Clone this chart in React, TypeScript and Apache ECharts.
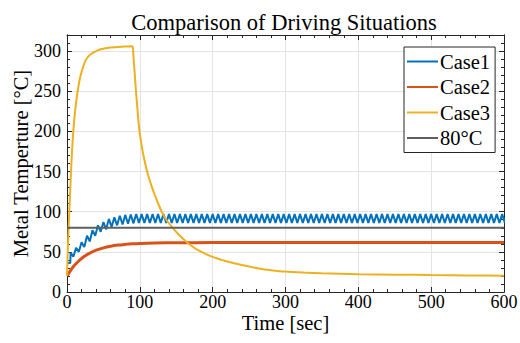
import React, { useEffect, useRef } from "react";
import * as echarts from "echarts";

const FONT = "'Liberation Serif', 'Times New Roman', serif";

const seriesNames = ["Case1", "Case2", "Case3", "80°C"];
const xTicks = [0, 100, 200, 300, 400, 500, 600];
const yTicks = [0, 50, 100, 150, 200, 250, 300];

// Case1: lead-in points, then alternating peak/trough values every half period
const case1Lead: [number, number][] = [
  [0, 36],
  [4.5, 36],
];
const case1Start = 5;
const case1HalfPeriod = 3.75;
const case1Values = [
  49, 44, 55, 50, 62, 56, 70, 63, 77, 70, 83, 75, 87, 78, 91, 81, 93, 83, 95, 84,
  96, 85, 96.5, 85.5, 97, 86,
  97, 86, 97, 86, 97, 86, 97, 86, 97, 86, 97, 86, 97, 86, 97, 86, 97, 86, 97, 86, 97, 86, 97, 86,
  97, 86, 97, 86, 97, 86, 97, 86, 97, 86, 97, 86, 97, 86, 97, 86, 97, 86, 97, 86, 97, 86, 97, 86,
  97, 86, 97, 86, 97, 86, 97, 86, 97, 86, 97, 86, 97, 86, 97, 86, 97, 86, 97, 86, 97, 86, 97, 86,
  97, 86, 97, 86, 97, 86, 97, 86, 97, 86, 97, 86, 97, 86, 97, 86, 97, 86, 97, 86, 97, 86, 97, 86,
  97, 86, 97, 86, 97, 86, 97, 86, 97, 86, 97, 86, 97, 86, 97, 86, 97, 86, 97, 86, 97, 86, 97, 86,
  97, 86, 97, 86, 97, 86, 97, 86, 97, 86, 97, 86, 97, 86, 97, 86, 97, 86, 97, 86, 97, 86, 97, 86,
  97, 86, 97, 86, 97, 86, 97, 86, 97, 86, 97, 86, 97,
];
const case1End: [number, number] = [600, 91];

// Case2: time and value
const case2Time = [0, 5, 10, 15, 20, 25, 30, 40, 50, 60, 70, 80, 90, 100, 120, 150, 200, 300, 400, 500, 600];
const case2Values = [20, 27, 32.9, 37.7, 41.7, 45.1, 47.8, 52.1, 55, 57, 58.4, 59.3, 60, 60.5, 61, 61.3, 61.5, 61.5, 61.5, 61.5, 61.5];

// Case3: time and value
const case3Time = [
  0, 1, 2, 4, 6, 8, 10, 12.5, 15, 18, 22, 26, 30, 36, 45, 60, 75, 90,
  91, 92.5, 94.5, 97, 99, 102, 105, 110, 115, 120, 125, 130, 137, 146, 155, 166, 180, 199,
  220, 240, 265, 280, 300, 325, 350, 400, 450, 500, 550, 600,
];
const case3Values = [
  20, 50, 75, 118, 160, 192, 215, 236, 252, 267, 280, 289, 294, 298, 302, 304.5, 305.5, 306,
  296, 278, 252, 225, 204, 185, 170, 150, 135, 122, 110.5, 100, 89, 79, 70, 61, 52, 44,
  38, 33.5, 29, 27.2, 25.4, 24.2, 23.3, 22.2, 21.6, 21.1, 20.7, 20.3,
];

const refTime = [0, 600];
const refValues = [80, 80];

const colors = ["#0072BD", "#D95319", "#EDB120", "#5f5f5f"];

export default function App() {
  const ref = useRef<HTMLDivElement>(null);
  useEffect(() => {
    if (!ref.current) return;
    document.body.style.margin = "0";
    const chart = echarts.init(ref.current, null, { renderer: "svg" });

    const case1Data: [number, number][] = [
      ...case1Lead,
      ...case1Values.map((v, i) => [case1Start + i * case1HalfPeriod, v] as [number, number]),
      case1End,
    ];
    const case2Data = case2Time.map((t, i) => [t, case2Values[i]]);
    const case3Data = case3Time.map((t, i) => [t, case3Values[i]]);
    const refData = refTime.map((t, i) => [t, refValues[i]]);

    const axisColor = "#262626";
    const xBase = {
      type: "value" as const,
      min: xTicks[0],
      max: xTicks[xTicks.length - 1],
      interval: 100,
      axisLine: { show: true, onZero: false, lineStyle: { color: axisColor, width: 1 } },
      axisTick: { show: true, inside: true, length: 5, lineStyle: { color: axisColor } },
      minorTick: { show: true, splitNumber: 5, length: 3, lineStyle: { color: axisColor } },
    };
    const yMajor = {
      type: "value" as const,
      min: yTicks[0],
      max: 320,
      interval: 50,
      axisLine: { show: true, onZero: false, lineStyle: { color: axisColor, width: 1 } },
      axisTick: { show: true, inside: true, length: 5, lineStyle: { color: axisColor } },
    };
    const yMinor = {
      type: "value" as const,
      min: 0,
      max: 320,
      interval: 10,
      axisLine: { show: true, onZero: false, lineStyle: { color: axisColor, width: 1 } },
      axisTick: { show: true, inside: true, length: 3, lineStyle: { color: axisColor } },
      axisLabel: { show: false },
      splitLine: { show: false },
    };

    chart.setOption({
      animation: false,
      backgroundColor: "#ffffff",
      title: {
        text: "Comparison of Driving Situations",
        left: 284,
        top: 11,
        textAlign: "center",
        padding: 0,
        textStyle: { fontFamily: FONT, fontSize: 22.5, fontWeight: "normal", color: "#000" },
      },
      grid: {
        left: 67,
        right: 16,
        top: 35,
        bottom: 51,
        containLabel: false,
        outerBoundsMode: "none",
      },
      legend: {
        data: seriesNames,
        orient: "vertical",
        left: 404,
        top: 47,
        icon: "rect",
        backgroundColor: "#ffffff",
        borderColor: axisColor,
        borderWidth: 1,
        borderRadius: 0,
        padding: [4, 5, 4, 3],
        itemWidth: 31,
        itemHeight: 2,
        itemGap: 4.5,
        textStyle: { fontFamily: FONT, fontSize: 20.5, color: "#000", padding: [0, 0, 0, -3] },
      },
      xAxis: [
        {
          ...xBase,
          position: "bottom",
          name: "Time [sec]",
          nameLocation: "middle",
          nameGap: 22,
          nameMoveOverlap: false,
          nameTextStyle: { fontFamily: FONT, fontSize: 20.5, lineHeight: 18, color: "#000" },
          axisLabel: {
            show: true,
            fontFamily: FONT,
            fontSize: 18,
            lineHeight: 16,
            color: "#000",
            margin: 2,
          },
          splitLine: { show: true, lineStyle: { color: "#e3e3e3", width: 1 } },
        },
        {
          ...xBase,
          position: "top",
          axisLabel: { show: false },
          splitLine: { show: false },
        },
      ],
      yAxis: [
        {
          ...yMajor,
          position: "left",
          name: "Metal Temperture [°C]",
          nameLocation: "middle",
          nameGap: 36,
          nameMoveOverlap: false,
          nameTextStyle: { fontFamily: FONT, fontSize: 20.5, color: "#000" },
          axisLabel: {
            show: true,
            fontFamily: FONT,
            fontSize: 18,
            color: "#000",
            margin: 6,
            showMaxLabel: false,
          },
          splitLine: { show: true, lineStyle: { color: "#e3e3e3", width: 1 } },
        },
        { ...yMinor, position: "left" },
        {
          ...yMajor,
          position: "right",
          axisLabel: { show: false },
          splitLine: { show: false },
        },
        { ...yMinor, position: "right" },
      ],
      series: [
        {
          name: seriesNames[0],
          type: "line",
          data: case1Data,
          symbol: "none",
          lineStyle: { color: colors[0], width: 2 },
          itemStyle: { color: colors[0] },
        },
        {
          name: seriesNames[1],
          type: "line",
          data: case2Data,
          symbol: "none",
          smooth: 0.3,
          lineStyle: { color: colors[1], width: 3 },
          itemStyle: { color: colors[1] },
        },
        {
          name: seriesNames[2],
          type: "line",
          data: case3Data,
          symbol: "none",
          smooth: 0.2,
          lineStyle: { color: colors[2], width: 2 },
          itemStyle: { color: colors[2] },
        },
        {
          name: seriesNames[3],
          type: "line",
          data: refData,
          symbol: "none",
          lineStyle: { color: colors[3], width: 2 },
          itemStyle: { color: colors[3] },
        },
      ],
    });
    return () => chart.dispose();
  }, []);
  return <div ref={ref} style={{ width: 520, height: 343 }} />;
}
